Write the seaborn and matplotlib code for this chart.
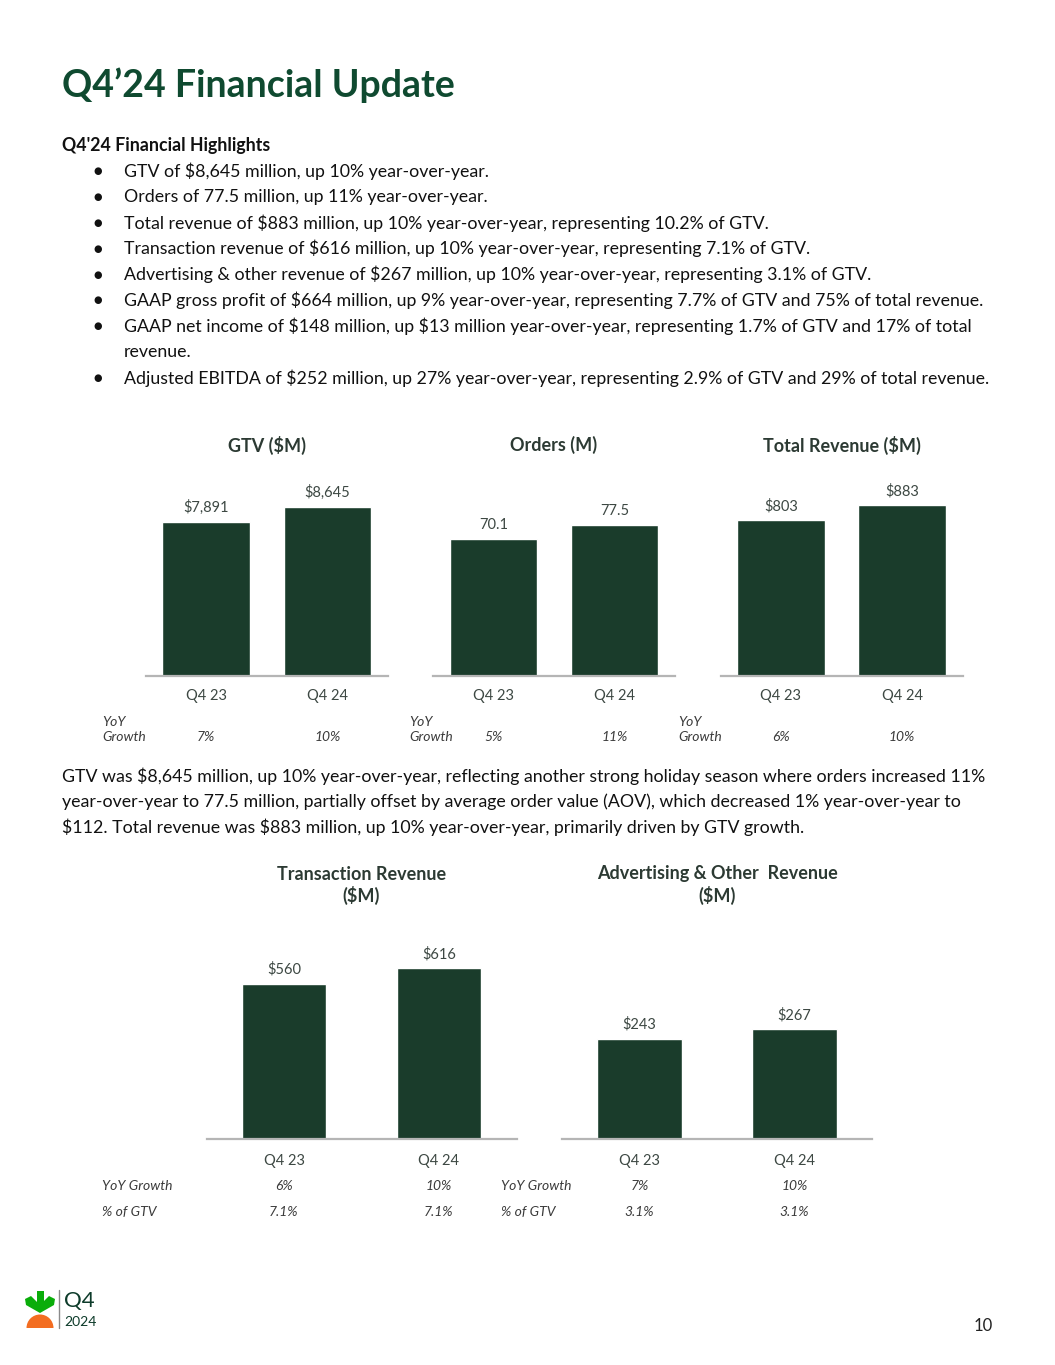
import matplotlib
matplotlib.use("Agg")
import matplotlib.pyplot as plt
import matplotlib.transforms as mtransforms
from matplotlib.patches import Wedge, Polygon
import pandas as pd
import seaborn as sns

# Chart data
quarters = ["Q4 23", "Q4 24"]
gtv = [7891, 8645]
gtv_labels = ["$7,891", "$8,645"]
gtv_yoy = ["7%", "10%"]
orders = [70.1, 77.5]
orders_labels = ["70.1", "77.5"]
orders_yoy = ["5%", "11%"]
total_rev = [803, 883]
total_rev_labels = ["$803", "$883"]
total_rev_yoy = ["6%", "10%"]
trans_rev = [560, 616]
trans_rev_labels = ["$560", "$616"]
trans_rev_yoy = ["6%", "10%"]
trans_rev_pct = ["7.1%", "7.1%"]
ad_rev = [243, 267]
ad_rev_labels = ["$243", "$267"]
ad_rev_yoy = ["7%", "10%"]
ad_rev_pct = ["3.1%", "3.1%"]

bullets = [
    "GTV of $8,645 million, up 10% year-over-year.",
    "Orders of 77.5 million, up 11% year-over-year.",
    "Total revenue of $883 million, up 10% year-over-year, representing 10.2% of GTV.",
    "Transaction revenue of $616 million, up 10% year-over-year, representing 7.1% of GTV.",
    "Advertising & other revenue of $267 million, up 10% year-over-year, representing 3.1% of GTV.",
    "GAAP gross profit of $664 million, up 9% year-over-year, representing 7.7% of GTV and 75% of total revenue.",
    "GAAP net income of $148 million, up $13 million year-over-year, representing 1.7% of GTV and 17% of total\nrevenue.",
    "Adjusted EBITDA of $252 million, up 27% year-over-year, representing 2.9% of GTV and 29% of total revenue.",
]
paragraph = [
    "GTV was $8,645 million, up 10% year-over-year, reflecting another strong holiday season where orders increased 11%",
    "year-over-year to 77.5 million, partially offset by average order value (AOV), which decreased 1% year-over-year to",
    "$112. Total revenue was $883 million, up 10% year-over-year, primarily driven by GTV growth.",
]

sns.set_theme(style="white")
plt.rcParams['font.family'] = ['Lato', 'DejaVu Sans']
plt.rcParams['text.parse_math'] = False

W, H = 1055, 1365
BAR = "#1a3c2b"
DARK = "#2c3a33"
GREEN_TITLE = "#0f4a30"
BODY = 12.8

fig = plt.figure(figsize=(W / 100, H / 100), dpi=100)
fig.patch.set_facecolor("white")


def fx(x):
    return x / W


def fy(y):
    return 1 - y / H


def make_axes(x0, x1, ytop, ybot):
    return fig.add_axes([fx(x0), fy(ybot), fx(x1 - x0), (ybot - ytop) / H])


def bar_chart(ax, values, labels, title, fill, width, title_ys):
    df = pd.DataFrame({"quarter": quarters, "value": values})
    sns.barplot(data=df, x="quarter", y="value", color=BAR, width=width,
                saturation=1, ax=ax)
    ax.set_ylim(0, max(values) / fill)
    ax.set_xlim(-0.5, 1.5)
    for c in ax.containers:
        ax.bar_label(c, labels=labels, padding=5, fontsize=10.5, color="#3d4843")
    for s in ["top", "left", "right"]:
        ax.spines[s].set_visible(False)
    ax.spines["bottom"].set_color("#b5b5b5")
    ax.spines["bottom"].set_linewidth(1.6)
    ax.set_yticks([])
    ax.set_xlabel("")
    ax.set_ylabel("")
    ax.tick_params(axis="x", length=0, pad=9.5, labelsize=10.5, labelcolor="#3d4843")
    ax.set_facecolor("none")
    tr = mtransforms.blended_transform_factory(ax.transAxes, fig.transFigure)
    for line, yy in zip(title.split("\n"), title_ys):
        ax.text(0.5, fy(yy), line, transform=tr, ha="center", va="center",
                fontsize=13, fontweight="bold", color=DARK)


def row_values(ax, values, y):
    tr = mtransforms.blended_transform_factory(ax.transData, fig.transFigure)
    for i, v in enumerate(values):
        ax.text(i, fy(y), v, transform=tr, ha="center", va="center",
                fontsize=10, style="italic", color="#3b3b3b")


# Title and highlights
fig.text(fx(62), fy(85), "Q4\u201924 Financial Update", fontsize=27,
         fontweight="bold", color=GREEN_TITLE, va="center")
fig.text(fx(62), fy(146), "Q4'24 Financial Highlights", fontsize=BODY,
         fontweight="bold", color="#111111", va="center")
line_y = 171
for b in bullets:
    fig.text(fx(98), fy(line_y), "\u25cf", fontsize=7, color="#111111",
             ha="center", va="center", family="DejaVu Sans")
    for part in b.split("\n"):
        fig.text(fx(124), fy(line_y), part, fontsize=BODY, color="#111111", va="center")
        line_y += 25.9

# Top charts
ax1 = make_axes(145.5, 388, 470, 676)
bar_chart(ax1, gtv, gtv_labels, "GTV ($M)", 169 / 206, 0.72, [445])
ax2 = make_axes(433, 675, 470, 676)
bar_chart(ax2, orders, orders_labels, "Orders (M)", 151 / 206, 0.72, [445])
ax3 = make_axes(720.5, 962.5, 470, 676)
bar_chart(ax3, total_rev, total_rev_labels, "Total Revenue ($M)", 171 / 206, 0.72, [445])

for ax, vals, xl in [(ax1, gtv_yoy, 102), (ax2, orders_yoy, 409), (ax3, total_rev_yoy, 678)]:
    fig.text(fx(xl), fy(722), "YoY", fontsize=10, style="italic", color="#3b3b3b", va="center")
    fig.text(fx(xl), fy(737), "Growth", fontsize=10, style="italic", color="#3b3b3b", va="center")
    row_values(ax, vals, 737)

# Paragraph
for i, line in enumerate(paragraph):
    fig.text(fx(62), fy(776 + i * 25.7), line, fontsize=BODY, color="#111111", va="center")

# Bottom charts
ax4 = make_axes(206.5, 516.5, 920, 1139)
bar_chart(ax4, trans_rev, trans_rev_labels, "Transaction Revenue\n($M)", 171 / 219, 0.545, [874, 895])
ax5 = make_axes(562, 872, 920, 1139)
bar_chart(ax5, ad_rev, ad_rev_labels, "Advertising & Other  Revenue\n($M)", 110 / 219, 0.545, [874, 895])
for ax in (ax4, ax5):
    ax.tick_params(axis="x", pad=11)

for ax, yoy, pct, xl in [(ax4, trans_rev_yoy, trans_rev_pct, 102), (ax5, ad_rev_yoy, ad_rev_pct, 501)]:
    fig.text(fx(xl), fy(1186), "YoY Growth", fontsize=10, style="italic", color="#3b3b3b", va="center")
    fig.text(fx(xl), fy(1212), "% of GTV", fontsize=10, style="italic", color="#3b3b3b", va="center")
    row_values(ax, yoy, 1186)
    row_values(ax, pct, 1212)

# Footer: logo and page number
logo = fig.add_axes([0, 0, 1, 1])
logo.set_xlim(0, W)
logo.set_ylim(H, 0)
logo.axis("off")
logo.set_facecolor("none")
logo.add_patch(Wedge((40, 1328), 13.5, 180, 360, color="#f36d21", lw=0))
logo.add_patch(Polygon([[36.5, 1291], [43.5, 1291], [43.5, 1306], [36.5, 1306]], color="#0aad0a", lw=0))
logo.add_patch(Polygon([[25, 1299], [31, 1296], [40, 1305], [40, 1313], [26, 1305]], color="#0aad0a", lw=0))
logo.add_patch(Polygon([[55, 1299], [49, 1296], [40, 1305], [40, 1313], [54, 1305]], color="#0aad0a", lw=0))
logo.plot([59, 59], [1290, 1328], color="#8a8a8a", lw=1)
fig.text(fx(64), fy(1301), "Q4", fontsize=16, color="#0d3b2a", va="center")
fig.text(fx(64), fy(1322), "2024", fontsize=10, color="#0d3b2a", va="center")
fig.text(fx(993), fy(1326), "10", fontsize=12, color="#222222", ha="right", va="center")

fig.savefig("out.png", dpi=100, facecolor="white")
